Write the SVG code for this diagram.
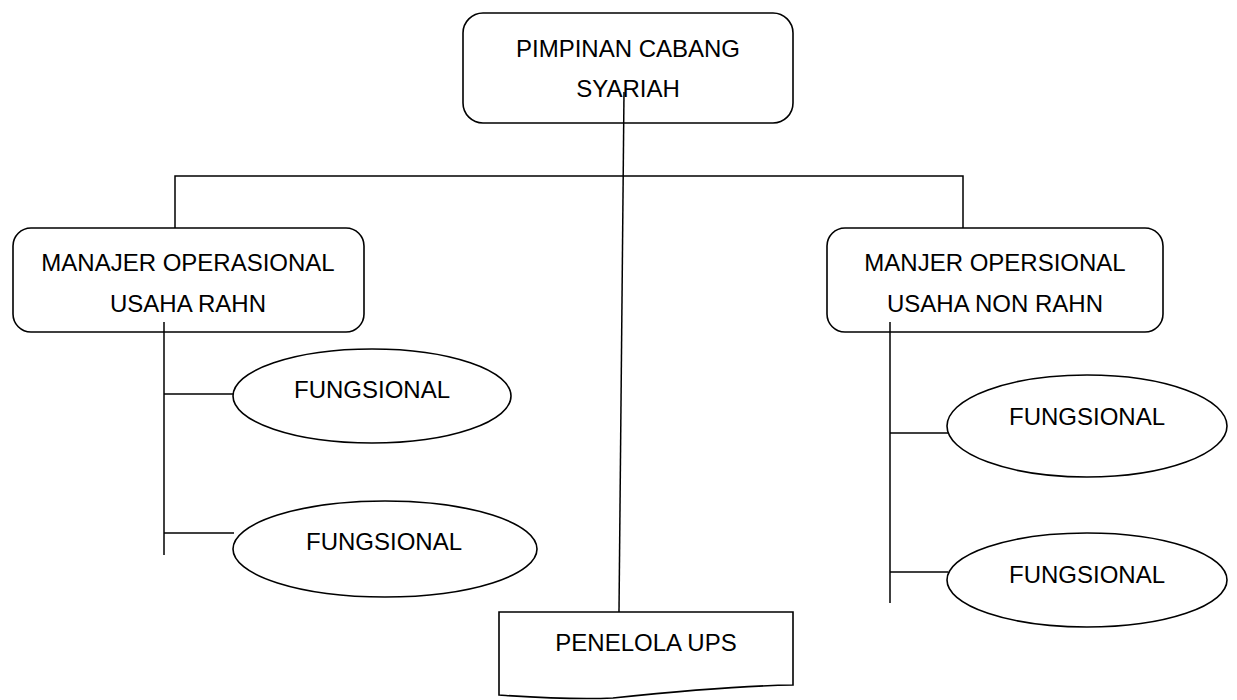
<svg xmlns="http://www.w3.org/2000/svg" width="1237" height="700" viewBox="0 0 1237 700">
  <style>
    .shape { fill: #ffffff; stroke: #000000; stroke-width: 1.6; }
    .wire { fill: none; stroke: #000000; stroke-width: 1.5; }
    .label { font-family: "Liberation Sans", Arial, sans-serif; font-size: 24px; fill: #000000; text-anchor: middle; }
  </style>
  <rect width="1237" height="700" fill="#ffffff"/>

  <!-- connectors -->
  <g id="connectors">
    <!-- top bar linking both managers -->
    <polyline class="wire" points="175,228 175,176 963,176 963,228"/>
    <!-- left manager spine and branches -->
    <line class="wire" x1="164" y1="322" x2="164" y2="555"/>
    <line class="wire" x1="164" y1="394" x2="234" y2="394"/>
    <line class="wire" x1="164" y1="533" x2="234" y2="533"/>
    <!-- right manager spine and branches -->
    <line class="wire" x1="890" y1="322" x2="890" y2="603"/>
    <line class="wire" x1="890" y1="433" x2="948" y2="433"/>
    <line class="wire" x1="890" y1="572" x2="948" y2="572"/>
  </g>

  <!-- branch head -->
  <g id="pimpinan">
    <rect class="shape" x="463" y="13" width="330" height="110" rx="20" ry="20"/>
    <text class="label" x="628" y="57">PIMPINAN CABANG</text>
    <text class="label" x="628" y="97">SYARIAH</text>
  </g>

  <!-- line from head to UPS (drawn over the head's text) -->
  <g id="connector-ups">
    <line class="wire" x1="624" y1="92" x2="619" y2="612"/>
  </g>

  <g id="manajer-rahn">
    <rect class="shape" x="13" y="228" width="351" height="104" rx="18" ry="18"/>
    <text class="label" x="188" y="271">MANAJER OPERASIONAL</text>
    <text class="label" x="188" y="312">USAHA RAHN</text>
  </g>
  <line class="wire" x1="164" y1="322" x2="164" y2="332"/>

  <g id="manajer-non-rahn">
    <rect class="shape" x="827" y="228" width="336" height="104" rx="18" ry="18"/>
    <text class="label" x="995" y="271">MANJER OPERSIONAL</text>
    <text class="label" x="995" y="312">USAHA NON RAHN</text>
  </g>
  <line class="wire" x1="890" y1="322" x2="890" y2="332"/>

  <g id="fungsional-1">
    <ellipse class="shape" cx="372" cy="396" rx="139" ry="47"/>
    <text class="label" x="372" y="398">FUNGSIONAL</text>
  </g>

  <g id="fungsional-2">
    <ellipse class="shape" cx="385" cy="549" rx="152" ry="48"/>
    <text class="label" x="384" y="550">FUNGSIONAL</text>
  </g>

  <g id="fungsional-3">
    <ellipse class="shape" cx="1087" cy="426" rx="140" ry="51"/>
    <text class="label" x="1087" y="425">FUNGSIONAL</text>
  </g>

  <g id="fungsional-4">
    <ellipse class="shape" cx="1087" cy="580" rx="140" ry="47"/>
    <text class="label" x="1087" y="583">FUNGSIONAL</text>
  </g>

  <g id="penelola-ups">
    <path class="shape" d="M499,612 H793 V685 C730,686 670,692 613,698 C570,700 530,697 499,695 Z"/>
    <text class="label" x="646" y="651">PENELOLA UPS</text>
  </g>
</svg>
